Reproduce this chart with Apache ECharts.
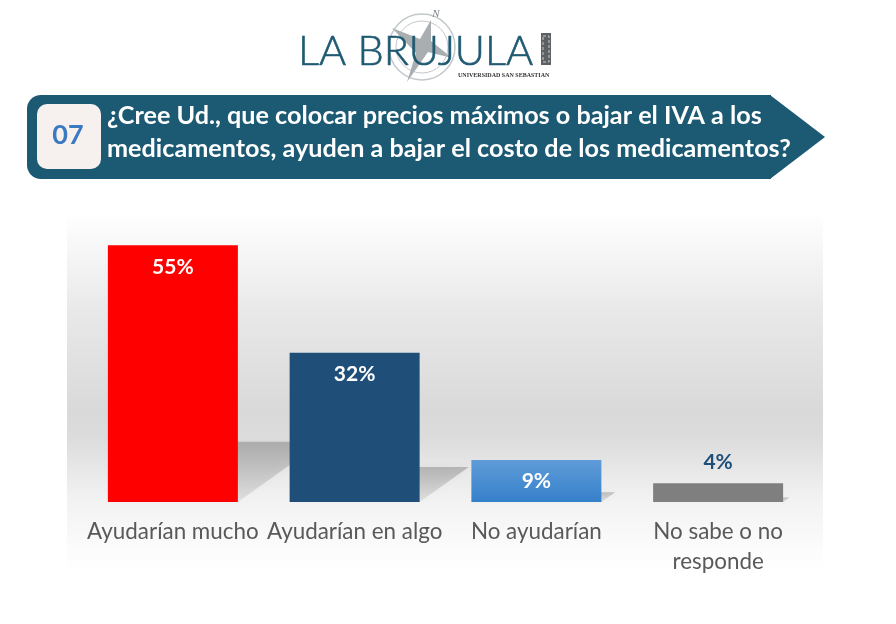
<!DOCTYPE html>
<html>
<head>
<meta charset="utf-8">
<style>
    html, body { margin: 0; padding: 0; background: #fff; }
    #chart { width: 896px; height: 624px; }
</style>
<script src="https://cdn.jsdelivr.net/npm/echarts@6/dist/echarts.min.js"></script>
</head>
<body>
<div id="chart"></div>
<script>
// Chart data
let categories = ['Ayudarían mucho', 'Ayudarían en algo', 'No ayudarían', 'No sabe o no\nresponde'];
let values = [55, 32, 9, 4];
let questionNumber = '07';
let questionLines = [
    '¿Cree Ud., que colocar precios máximos o bajar el IVA a los',
    'medicamentos, ayuden a bajar el costo de los medicamentos?'
];

let fontName = 'Lato';
let barHalfWidth = 65;
let teal = '#1c5a74';

// Bar fills
let barColors = [
    '#ff0000',
    '#1f4e79',
    {
        type: 'linear', x: 0, y: 0, x2: 0, y2: 1,
        colorStops: [{ offset: 0, color: '#5f9cd8' }, { offset: 1, color: '#3580cb' }]
    },
    '#7f7f7f'
];

// Slanted shadow behind each bar, its height follows the bar
function renderShadow(params, api) {
    let base = api.coord([api.value(0), 0]);
    let top = api.coord([api.value(0), api.value(1)]);
    let h = (base[1] - top[1]) * 0.235;
    let dx = h * 1.4;
    return {
        type: 'polygon',
        shape: {
            points: [
                [base[0] - barHalfWidth, base[1]],
                [base[0] + barHalfWidth, base[1]],
                [base[0] + barHalfWidth + dx, base[1] - h],
                [base[0] - barHalfWidth + dx, base[1] - h]
            ]
        },
        style: {
            fill: {
                type: 'linear', x: 0, y: 0, x2: 0, y2: 1,
                colorStops: [
                    { offset: 0, color: 'rgba(0,0,0,0.2)' },
                    { offset: 1, color: 'rgba(0,0,0,0.07)' }
                ]
            },
            shadowBlur: 6,
            shadowColor: 'rgba(0,0,0,0.18)'
        }
    };
}

let chart = echarts.init(document.getElementById('chart'));
let option = {
    backgroundColor: '#ffffff',
    animation: false,
    textStyle: { fontFamily: fontName },
    grid: { left: 82, right: 87, top: 222, height: 280 },
    xAxis: {
        type: 'category',
        data: categories,
        axisLine: { show: false },
        axisTick: { show: false },
        axisLabel: {
            interval: 0,
            margin: 15,
            fontFamily: fontName,
            fontSize: 22.4,
            lineHeight: 30,
            color: '#595959'
        }
    },
    yAxis: { type: 'value', min: 0, max: 60, show: false },
    series: [{
            type: 'custom',
            z: 1,
            silent: true,
            renderItem: renderShadow,
            data: values.map(function(v, i) { return [i, v]; })
        },
        {
            type: 'bar',
            z: 3,
            barWidth: 130,
            data: values.map(function(v, i) {
                let small = v < 5;
                return {
                    value: v,
                    itemStyle: { color: barColors[i] },
                    label: {
                        position: small ? 'top' : 'insideTop',
                        distance: 11,
                        color: small ? '#1f4e79' : '#ffffff'
                    }
                };
            }),
            label: {
                show: true,
                formatter: '{c}%',
                fontFamily: fontName,
                fontWeight: 'bold',
                fontSize: 21
            }
        }
    ],
    graphic: [
        // Panel behind the bars
        {
            type: 'rect', z: 0, silent: true,
            shape: { x: 67, y: 212, width: 756, height: 364 },
            style: {
                fill: {
                    type: 'linear', x: 0, y: 0, x2: 0, y2: 1,
                    colorStops: [
                        { offset: 0, color: '#ffffff' },
                        { offset: 0.28, color: '#e8e8e8' },
                        { offset: 0.55, color: '#d9d9d9' },
                        { offset: 0.62, color: '#dcdcdc' },
                        { offset: 0.78, color: '#f1f1f1' },
                        { offset: 0.93, color: '#fcfcfc' },
                        { offset: 1, color: '#ffffff' }
                    ]
                }
            }
        },
        // Question banner
        {
            type: 'rect', z: 1,
            shape: { x: 27, y: 95, width: 744, height: 84, r: [14, 0, 0, 14] },
            style: { fill: teal }
        },
        {
            type: 'polygon', z: 1,
            shape: { points: [[770, 95], [825, 137], [770, 179]] },
            style: { fill: teal }
        },
        {
            type: 'rect', z: 2,
            shape: { x: 37, y: 104, width: 64, height: 65, r: 10 },
            style: { fill: '#f6f1ef' }
        },
        {
            type: 'text', z: 3, x: 68, y: 135,
            style: {
                text: questionNumber, fill: '#3b79c0', align: 'center', verticalAlign: 'middle',
                font: 'bold 27px ' + fontName
            }
        },
        {
            type: 'text', z: 3, x: 107, y: 116,
            style: {
                text: questionLines[0], fill: '#ffffff', verticalAlign: 'middle',
                font: 'bold 25.2px ' + fontName
            }
        },
        {
            type: 'text', z: 3, x: 107, y: 149,
            style: {
                text: questionLines[1], fill: '#ffffff', verticalAlign: 'middle',
                font: 'bold 25.2px ' + fontName
            }
        },
        // Logo: compass
        {
            type: 'circle', z: 1, shape: { cx: 422, cy: 47, r: 33 },
            style: { fill: 'none', stroke: '#c4c8ca', lineWidth: 1.5 }
        },
        {
            type: 'circle', z: 1, shape: { cx: 422, cy: 47, r: 26 },
            style: { fill: 'none', stroke: '#c4c8ca', lineWidth: 1 }
        },
        {
            type: 'polygon', z: 1,
            shape: {
                points: [[431, 20], [431, 41], [452, 58], [428, 52], [407, 82], [416, 53], [392, 28], [420, 39]]
            },
            style: { fill: '#a9aeb1' }
        },
        {
            type: 'text', z: 1, x: 436, y: 14,
            style: {
                text: 'N', fill: '#7b8387', align: 'center', verticalAlign: 'middle',
                font: 'italic 11px "Liberation Serif"'
            }
        },
        // Logo: name
        {
            type: 'text', z: 3, x: 298, y: 52,
            style: {
                text: 'LA BRUJULA', fill: '#1f5a72', verticalAlign: 'middle',
                stroke: '#1f5a72', lineWidth: 0.6,
                font: '300 41.5px ' + fontName
            }
        },
        {
            type: 'text', z: 3, x: 458, y: 75,
            style: {
                text: 'UNIVERSIDAD SAN SEBASTIAN', fill: '#333333', verticalAlign: 'middle',
                font: 'bold 6px "Liberation Serif"'
            }
        },
        {
            type: 'rect', z: 3,
            shape: { x: 541, y: 33, width: 10, height: 32 },
            style: { fill: '#5d6164' }
        },
        {
            type: 'rect', z: 4,
            shape: { x: 543, y: 36, width: 6, height: 26 },
            style: { fill: 'none', stroke: '#c9cccd', lineWidth: 1, lineDash: [3, 2] }
        }
    ]
};
chart.setOption(option);

window.addEventListener('resize', function() {
    chart.resize();
});
</script>
</body>
</html>
